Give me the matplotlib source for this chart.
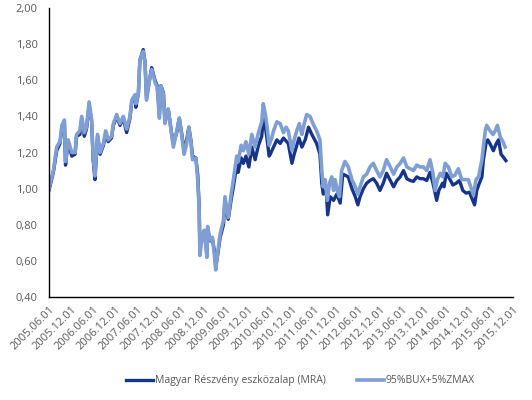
import numpy as np
import pandas as pd
import matplotlib
matplotlib.use("Agg")
import matplotlib.pyplot as plt
import matplotlib.dates as mdates
from matplotlib.ticker import FuncFormatter

# ── Data (months since 2005.06.01, index value) ─────────────────────────────
START = pd.Timestamp("2005-06-01")

bench_months = [
    0.0, 1.2, 2.1, 3.0, 3.5, 4.2, 4.5, 5.2, 6.2, 7.1, 7.5, 8.4, 8.9, 9.6, 10.2,
    10.9, 11.6, 12.0, 12.5, 13.2, 13.9, 14.8, 15.4, 16.1, 17.0, 17.5, 18.4, 19.3,
    20.2, 21.1, 22.0, 22.5, 23.4, 23.6, 24.3, 24.7, 25.6, 26.1, 26.5, 27.3, 27.9,
    28.3, 28.8, 29.4, 30.0, 30.4, 31.1, 31.5, 32.4, 33.3, 33.8, 34.7, 35.4, 36.1,
    36.7, 37.4, 38.0, 38.6, 39.0, 39.9, 40.4, 40.8, 41.0, 41.7, 42.2, 42.9, 43.1,
    43.8, 44.4, 44.9, 45.3, 45.8, 46.5, 47.4, 47.8, 48.7, 49.5, 50.1, 51.0, 51.4,
    52.2, 52.8, 53.5, 54.3, 55.1, 56.0, 56.9, 57.8, 58.2, 58.7, 59.2, 59.8, 60.5,
    61.0, 61.9, 62.8, 63.7, 64.4, 65.0, 66.0, 66.6, 67.3, 68.0, 68.7, 69.1, 70.0,
    70.9, 71.7, 72.7, 73.6, 74.1, 74.5, 75.0, 75.6, 76.2, 76.8, 77.3, 77.7, 78.3,
    78.9, 79.5, 80.4, 81.3, 82.3, 83.2, 83.9, 84.5, 85.4, 86.3, 87.2, 88.1, 89.0,
    89.9, 90.8, 91.7, 92.7, 93.6, 94.5, 95.4, 96.3, 97.2, 98.1, 99.0, 99.9, 100.8,
    101.7, 102.6, 103.5, 104.3, 104.9, 105.5, 106.3, 107.0, 107.6, 108.5, 109.4,
    110.3, 111.2, 112.1, 113.0, 113.9, 114.9, 115.3, 116.0, 116.7, 117.1, 117.6,
    118.0, 118.5, 118.9, 119.8, 120.6, 121.2, 121.8, 122.6, 123.3, 123.9,
]
bench_values = [
    1.00, 1.10, 1.23, 1.26, 1.35, 1.38, 1.15, 1.27, 1.20, 1.20, 1.30, 1.32, 1.40, 1.31, 1.34,
    1.48, 1.38, 1.18, 1.07, 1.30, 1.20, 1.25, 1.32, 1.27, 1.29, 1.36, 1.41, 1.36,
    1.40, 1.33, 1.40, 1.49, 1.52, 1.47, 1.53, 1.71, 1.76, 1.69, 1.49, 1.60, 1.66,
    1.63, 1.59, 1.56, 1.39, 1.57, 1.52, 1.36, 1.44, 1.30, 1.23, 1.32, 1.39, 1.29,
    1.19, 1.25, 1.34, 1.25, 1.16, 1.17, 1.05, 0.88, 0.63, 0.75, 0.77, 0.62, 0.79,
    0.715, 0.73, 0.64, 0.55, 0.64, 0.75, 0.825, 0.955, 0.84, 0.97, 1.05, 1.18, 1.15,
    1.24, 1.21, 1.26, 1.19, 1.30, 1.23, 1.31, 1.37, 1.47, 1.42, 1.35, 1.24, 1.28,
    1.32, 1.37, 1.36, 1.31, 1.34, 1.32, 1.21, 1.27, 1.32, 1.36, 1.30, 1.34, 1.41,
    1.40, 1.36, 1.32, 1.27, 1.10, 1.01, 1.05, 0.935, 1.03, 1.065, 0.99, 1.05, 0.99,
    0.955, 1.10, 1.15, 1.12, 1.05, 1.01, 0.97, 1.01, 1.065, 1.08, 1.12, 1.14, 1.10,
    1.065, 1.10, 1.16, 1.12, 1.08, 1.12, 1.14, 1.17, 1.12, 1.11, 1.10, 1.13, 1.12,
    1.12, 1.10, 1.16, 1.085, 0.99, 1.05, 1.085, 1.065, 1.14, 1.12, 1.065,
    1.075, 1.11, 1.05, 1.05, 1.05, 0.99, 0.965, 1.05, 1.065, 1.11, 1.16,
    1.23, 1.32, 1.35, 1.32, 1.30, 1.32, 1.35, 1.285, 1.26, 1.23,
]

fund_months = [
    0.0, 1.2, 2.1, 3.0, 3.5, 4.2, 4.5, 5.2, 6.2, 7.1, 7.5, 8.4, 8.9, 9.6, 10.2,
    10.9, 11.6, 12.0, 12.5, 13.2, 13.9, 14.8, 15.4, 16.1, 17.0, 17.5, 18.4, 19.3,
    20.2, 21.1, 22.0, 22.5, 23.4, 23.6, 24.3, 24.7, 25.6, 26.1, 26.5, 27.3, 27.9,
    28.3, 28.8, 29.4, 30.0, 30.4, 31.1, 31.5, 32.4, 33.3, 33.8, 34.7, 35.4, 36.1,
    36.7, 37.4, 38.0, 38.6, 39.0, 39.9, 40.4, 40.8, 41.0, 41.7, 42.2, 42.9, 43.1,
    43.8, 44.4, 44.9, 45.3, 45.8, 46.5, 47.4, 47.8, 48.7, 49.5, 50.1, 51.0, 51.4,
    52.2, 52.8, 53.5, 54.3, 55.1, 56.0, 56.9, 57.8, 58.2, 58.7, 59.2, 59.8, 60.1,
    61.0, 61.9, 62.8, 63.7, 65.0, 66.0, 66.6, 67.9, 68.7, 69.6, 70.5, 71.4, 72.7,
    73.6, 74.1, 74.5, 75.3, 75.7, 76.4, 77.3, 78.2, 79.1, 79.8, 80.4, 81.3, 82.3,
    83.2, 83.9, 84.5, 85.4, 86.3, 87.2, 88.1, 89.0, 89.9, 90.8, 91.7, 92.7, 93.6,
    94.5, 95.4, 96.3, 97.2, 98.1, 99.0, 99.9, 100.8, 101.7, 102.6, 103.5, 104.3,
    105.3, 105.9, 106.9, 107.3, 107.9, 108.8, 109.7, 110.6, 111.5, 112.4, 113.3,
    114.2, 115.1, 115.6, 116.2, 116.9, 117.6, 118.0, 118.7, 119.2, 120.0, 120.7,
    121.5, 122.1, 122.8, 123.4, 124.1,
]
fund_values = [
    0.99, 1.09, 1.21, 1.25, 1.33, 1.37, 1.13, 1.26, 1.18, 1.19, 1.29, 1.30, 1.39, 1.29, 1.33,
    1.46, 1.37, 1.16, 1.05, 1.29, 1.19, 1.24, 1.30, 1.26, 1.28, 1.35, 1.40, 1.35,
    1.39, 1.31, 1.39, 1.48, 1.51, 1.45, 1.53, 1.71, 1.77, 1.70, 1.50, 1.60, 1.67,
    1.64, 1.60, 1.57, 1.41, 1.57, 1.53, 1.37, 1.44, 1.31, 1.25, 1.31, 1.39, 1.30,
    1.21, 1.27, 1.34, 1.26, 1.18, 1.17, 1.08, 0.90, 0.66, 0.74, 0.76, 0.64, 0.77,
    0.71, 0.72, 0.66, 0.57, 0.63, 0.73, 0.80, 0.93, 0.83, 0.94, 1.01, 1.13, 1.09,
    1.17, 1.14, 1.18, 1.12, 1.23, 1.16, 1.24, 1.29, 1.39, 1.35, 1.28, 1.18, 1.19,
    1.23, 1.27, 1.25, 1.28, 1.25, 1.14, 1.19, 1.28, 1.23, 1.27, 1.34, 1.30, 1.25,
    1.19, 1.03, 0.97, 0.99, 0.855, 0.955, 0.935, 0.97, 0.92, 1.08, 1.075, 1.065, 1.00,
    0.955, 0.91, 0.955, 1.00, 1.03, 1.045, 1.055, 1.03, 0.99, 1.03, 1.085, 1.045, 1.01,
    1.045, 1.065, 1.10, 1.055, 1.045, 1.04, 1.065, 1.055, 1.055, 1.045, 1.09, 1.03,
    0.935, 0.99, 1.03, 1.01, 1.085, 1.055, 1.02, 1.03, 1.045, 0.99, 0.975,
    0.98, 0.935, 0.91, 0.99, 1.03, 1.065, 1.16, 1.25, 1.27, 1.24, 1.21,
    1.25, 1.27, 1.19, 1.175, 1.155,
]

fund_label = "Magyar Részvény eszközalap (MRA)"
bench_label = "95%BUX+5%ZMAX"


def to_dates(months):
    return START + pd.to_timedelta(np.asarray(months) * 30.4375, unit="D")


def main() -> None:
    plt.rcParams["font.family"] = ["Open Sans", "DejaVu Sans"]
    grey = "#595959"

    fig = plt.figure(figsize=(5.32, 4.0), dpi=100)
    ax = fig.add_axes([0.092, 0.2575, 0.872, 0.7225])

    ax.plot(to_dates(fund_months), fund_values, color="#17348c", lw=2.4,
            label=fund_label)
    ax.plot(to_dates(bench_months), bench_values, color="#7f9ed3", lw=2.6,
            label=bench_label)

    ax.set_ylim(0.40, 2.00)
    ax.set_yticks(np.arange(0.40, 2.01, 0.20))
    ax.yaxis.set_major_formatter(FuncFormatter(lambda v, _: f"{v:.2f}".replace(".", ",")))

    ticks = pd.date_range("2005-06-01", "2015-12-01", freq="6MS")
    ax.set_xlim(ticks[0], ticks[-1])
    ax.set_xticks(ticks)
    ax.xaxis.set_major_formatter(mdates.DateFormatter("%Y.%m.%d"))
    for lbl in ax.get_xticklabels():
        lbl.set_rotation(45)
        lbl.set_ha("right")
        lbl.set_rotation_mode("anchor")

    ax.tick_params(axis="both", length=0, labelsize=8, labelcolor=grey)
    ax.tick_params(axis="y", pad=8)
    ax.tick_params(axis="x", pad=5)
    for side in ("top", "right"):
        ax.spines[side].set_visible(False)
    for side in ("left", "bottom"):
        ax.spines[side].set_color("black")
        ax.spines[side].set_linewidth(1.0)

    leg = fig.legend(loc="center", bbox_to_anchor=(0.565, 0.048), ncol=2,
                     frameon=False, fontsize=7.5, handlelength=2.6,
                     handletextpad=0.15, columnspacing=3.0)
    for t in leg.get_texts():
        t.set_color(grey)

    fig.savefig("out.png", dpi=100)


if __name__ == "__main__":
    main()
